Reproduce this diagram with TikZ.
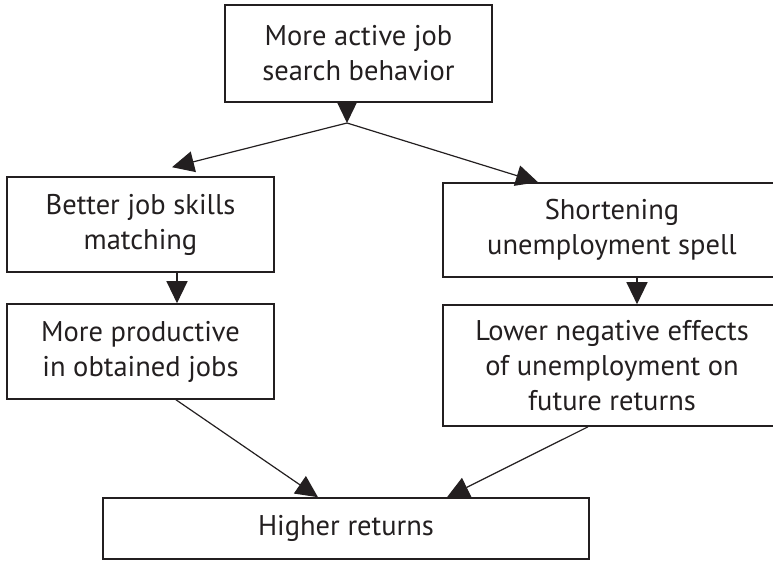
\documentclass[tikz,border=0pt]{standalone}
\usepackage{fontspec}
\setmainfont{PT Sans}
\usetikzlibrary{arrows.meta, positioning}
\definecolor{ink}{HTML}{231F20}

\begin{document}
\begin{tikzpicture}[x = 1pt, y = -1pt, line join = miter,
    box/.style = {draw = ink, line width = 1.6pt, align = center, inner sep = 0pt,
      font = \fontsize{28.5}{35}\selectfont, text = ink},
    link/.style = {draw = ink, line width = 1.2pt},
    arrow/.style = {link, -{Triangle[length = 22pt, width = 21pt]}}]
  \clip (0,0) rectangle (773,560);
  \node[box, minimum width = 267pt, minimum height = 97pt] (search) at (358.5,53.5)
    {More active job\\search behavior};
  \node[box, minimum width = 267pt, minimum height = 95pt] (skills) at (140.5,224.5)
    {Better job skills\\matching};
  \node[box, minimum width = 267pt, minimum height = 95pt] (productive) at (140.5,351.5)
    {More productive\\in obtained jobs};
  \node[box, minimum width = 338pt, minimum height = 94pt] (spell) at (612,230)
    {Shortening\\unemployment spell};
  \node[box, minimum width = 338pt, minimum height = 121pt] (effects) at (612,365.5)
    {Lower negative effects\\of unemployment on\\future returns};
  \node[box, minimum width = 486pt, minimum height = 61pt] (returns) at (346,528.5)
    {Higher returns};
  \coordinate (split) at (347,123);
  \path[arrow] ([xshift = -11.5pt]search.south) -- (split);
  \path[arrow] (split) -- ([xshift = 31.5pt, yshift = 9pt]skills.north);
  \path[arrow] (split) -- ([xshift = -74pt]spell.north);
  \path[arrow] ([xshift = 36.5pt]skills.south) -- ([xshift = 36.5pt]productive.north);
  \path[arrow] ([xshift = 25pt]spell.south) -- ([xshift = 25pt]effects.north);
  \path[arrow] ([xshift = 35.5pt]productive.south) -- ([xshift = -28pt]returns.north);
  \path[arrow] ([xshift = -24pt]effects.south) -- ([xshift = 101pt]returns.north);
\end{tikzpicture}
\end{document}
